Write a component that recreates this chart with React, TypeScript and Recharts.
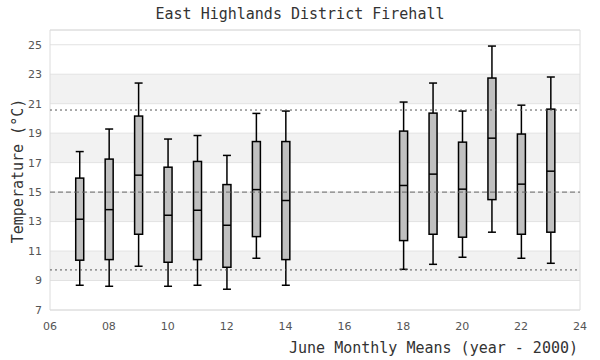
import React from "react";
import { ComposedChart, Bar, XAxis, YAxis, CartesianGrid, ReferenceArea, ReferenceLine } from "recharts";

// June monthly mean temperatures, per year (year - 2000)
const years = [7, 8, 9, 10, 11, 12, 13, 14, 18, 19, 20, 21, 22, 23];
const lows = [8.68, 8.61, 9.97, 8.61, 8.68, 8.41, 10.51, 8.68, 9.76, 10.1, 10.58, 12.28, 10.51, 10.17];
const q1s = [10.38, 10.42, 12.14, 10.24, 10.42, 9.9, 11.98, 10.42, 11.71, 12.14, 11.94, 14.49, 12.14, 12.28];
const medians = [13.16, 13.81, 16.15, 13.43, 13.77, 12.75, 15.17, 14.43, 15.45, 16.22, 15.2, 18.66, 15.54, 16.42];
const q3s = [15.95, 17.24, 20.16, 16.69, 17.08, 15.51, 18.43, 18.43, 19.14, 20.36, 18.39, 22.74, 18.94, 20.63];
const highs = [17.75, 19.28, 22.4, 18.6, 18.84, 17.49, 20.34, 20.5, 21.11, 22.4, 20.5, 24.91, 20.9, 22.81];

const xTicks = [6, 8, 10, 12, 14, 16, 18, 20, 22, 24];
const yTicks = [7, 9, 11, 13, 15, 17, 19, 21, 23, 25];
const bands = [
  [9, 11],
  [13, 15],
  [17, 19],
  [21, 23],
];
const meanLine = 15;
const limitLines = [20.57, 9.72];

const data = years.map((year, i) => ({
  year,
  low: lows[i],
  q1: q1s[i],
  median: medians[i],
  q3: q3s[i],
  high: highs[i],
  range: [lows[i], highs[i]],
}));

const BoxShape = (props: any) => {
  const { x, y, width, height, payload } = props;
  if (!payload || !height) return null;
  const { low, q1, median, q3, high } = payload;
  const k = height / (high - low);
  const yAt = (v: number) => y + (high - v) * k;
  const cx = x + width / 2;
  const sw = 1.5;
  return (
    <g>
      <line x1={cx} x2={cx} y1={yAt(high)} y2={yAt(q3)} stroke="#000" strokeWidth={sw} />
      <line x1={cx} x2={cx} y1={yAt(q1)} y2={yAt(low)} stroke="#000" strokeWidth={sw} />
      <line x1={x} x2={x + width} y1={yAt(high)} y2={yAt(high)} stroke="#000" strokeWidth={sw} />
      <line x1={x} x2={x + width} y1={yAt(low)} y2={yAt(low)} stroke="#000" strokeWidth={sw} />
      <rect x={x} y={yAt(q3)} width={width} height={yAt(q1) - yAt(q3)} fill="#c0c0c0" stroke="#000" strokeWidth={sw} />
      <line x1={x} x2={x + width} y1={yAt(median)} y2={yAt(median)} stroke="#000" strokeWidth={sw} />
    </g>
  );
};

const mono = "'DejaVu Sans Mono', monospace";
const tickStyle = { fontFamily: "'DejaVu Sans', sans-serif", fontSize: 11, fill: "#555" };

export default function App() {
  return (
    <div style={{ position: "absolute", left: 0, top: 0, width: 600, height: 360, background: "#fff" }}>
      <ComposedChart width={600} height={360} data={data} margin={{ top: 30, right: 20, bottom: 20, left: 0 }}>
        {bands.map(([a, b]) => (
          <ReferenceArea key={a} y1={a} y2={b} x1={6} x2={24} fill="#e6e6e6" fillOpacity={0.5} stroke="none" />
        ))}
        <CartesianGrid vertical={false} stroke="#e2e2e2" />
        <ReferenceArea x1={6} x2={24} y1={7} y2={26} fill="none" stroke="#dcdcdc" strokeWidth={1} />
        <XAxis
          type="number"
          dataKey="year"
          domain={[6, 24]}
          ticks={xTicks}
          tickFormatter={(v: number) => String(v).padStart(2, "0")}
          tickLine={false}
          axisLine={false}
          tickMargin={6}
          height={30}
          tick={tickStyle}
          interval={0}
        />
        <YAxis
          type="number"
          domain={[7, 26]}
          ticks={yTicks}
          tickLine={false}
          axisLine={false}
          width={50}
          tick={tickStyle}
          interval={0}
        />
        {limitLines.map((v) => (
          <ReferenceLine key={v} y={v} stroke="#555" strokeDasharray="2 3" />
        ))}
        <ReferenceLine y={meanLine} stroke="#666" strokeDasharray="5 3" />
        <Bar dataKey="range" barSize={8} shape={BoxShape} isAnimationActive={false} />
      </ComposedChart>
      <div
        style={{
          position: "absolute",
          left: 0,
          top: 6,
          width: 600,
          textAlign: "center",
          fontFamily: mono,
          fontSize: 15,
          lineHeight: "16px",
          color: "#333",
        }}
      >
        East Highlands District Firehall
      </div>
      <div
        style={{
          position: "absolute",
          left: 18,
          top: 171,
          transform: "translate(-50%, -50%) rotate(-90deg)",
          whiteSpace: "nowrap",
          fontFamily: mono,
          fontSize: 15,
          lineHeight: "16px",
          color: "#333",
        }}
      >
        Temperature (°C)
      </div>
      <div
        style={{
          position: "absolute",
          right: 22,
          top: 340,
          whiteSpace: "nowrap",
          fontFamily: mono,
          fontSize: 15,
          lineHeight: "16px",
          color: "#333",
        }}
      >
        June Monthly Means (year - 2000)
      </div>
    </div>
  );
}
